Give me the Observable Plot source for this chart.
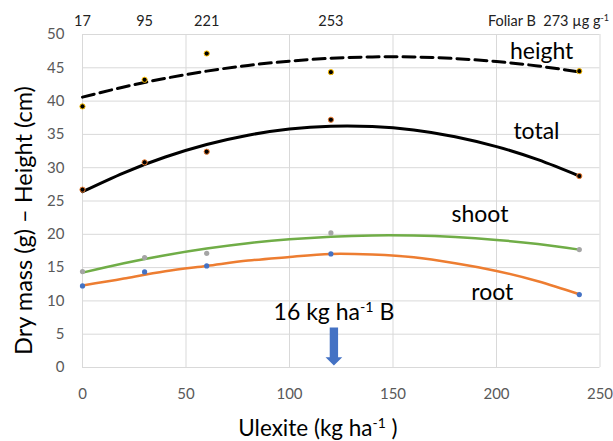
<!DOCTYPE html>
<html>
<head>
<meta charset="utf-8">
<script src="https://cdn.jsdelivr.net/npm/d3@7"></script>
<script src="https://cdn.jsdelivr.net/npm/@observablehq/plot@0.6"></script>
<style>
  html, body { margin: 0; padding: 0; background: #fff; }
</style>
</head>
<body>
<div id="chart"></div>
<script>
// Ulexite doses (kg ha-1)
const doses = [0, 30, 60, 120, 240];

// Observed means
const heightObs = [39.2, 43.2, 47.15, 44.35, 44.5];
const totalObs  = [26.7, 30.8, 32.4, 37.2, 28.75];
const shootObs  = [14.4, 16.5, 17.15, 20.2, 17.7];
const rootObs   = [12.25, 14.35, 15.25, 17.05, 10.95];

// Trend curves
const fitX      = [0, 20, 40, 60, 80, 100, 120, 140, 160, 180, 200, 220, 240];
const heightFit = [40.6, 42.12, 43.42, 44.5, 45.36, 46.0, 46.43, 46.63, 46.62, 46.39, 45.94, 45.27, 44.39];
const totalFit  = [26.4, 29.24, 31.6, 33.48, 34.88, 35.81, 36.24, 36.19, 35.67, 34.66, 33.17, 31.2, 28.75];
const shootFit  = [14.25, 15.66, 16.86, 17.86, 18.66, 19.25, 19.64, 19.83, 19.81, 19.59, 19.16, 18.53, 17.7];
const rootFit   = [12.3, 13.35, 14.45, 15.25, 16.05, 16.6, 17.05, 16.95, 16.55, 15.65, 14.5, 12.95, 11.0];

// Leaf B concentrations above each dose (µg g-1)
const leafB = ["17", "95", "221", "253"];
const foliarLabel = "Foliar B  273 µg g⁻¹";

// Curve labels
const curveNames = ["height", "total", "shoot", "root"];
const curveLabelX = [221.8, 219.3, 192, 198];
const curveLabelY = [47.45, 35.45, 22.9, 11.17];

// Recommended dose annotation
const doseNote = "16 kg ha⁻¹ B";
const doseNoteX = 92.3, doseNoteY = 8.17;
const arrowDose = 120, arrowMid = 3.15;

const xTicks = [0, 50, 100, 150, 200, 250];
const yTicks = [0, 5, 10, 15, 20, 25, 30, 35, 40, 45, 50];
const xTitle = "Ulexite (kg ha⁻¹ )";
const yTitle = "Dry mass (g) – Height (cm)";

const blockArrow = {
  draw(ctx, size) {
    const s = Math.sqrt(size / Math.PI);
    ctx.moveTo(-0.22 * s, -s);
    ctx.lineTo(0.22 * s, -s);
    ctx.lineTo(0.22 * s, 0.56 * s);
    ctx.lineTo(0.44 * s, 0.56 * s);
    ctx.lineTo(0, s);
    ctx.lineTo(-0.44 * s, 0.56 * s);
    ctx.lineTo(-0.22 * s, 0.56 * s);
    ctx.closePath();
  }
};

const obsSeries = (arr) => doses.map((d, i) => ({x: d, y: arr[i]}));
const fitSeries = (arr) => fitX.map((d, i) => ({x: d, y: arr[i]}));

const chart = Plot.plot({
  width: 613,
  height: 441,
  marginLeft: 82,
  marginRight: 13.5,
  marginTop: 34,
  marginBottom: 74,
  x: {domain: [0, 250]},
  y: {domain: [0, 50]},
  style: {fontFamily: "Lato, 'Open Sans', sans-serif", fontSize: "15px", background: "#fff", color: "#000", overflow: "visible"},
  marks: [
    Plot.gridX({ticks: xTicks, stroke: "#d9d9d9", strokeOpacity: 1, strokeWidth: 1}),
    Plot.gridY({ticks: yTicks, stroke: "#d9d9d9", strokeOpacity: 1, strokeWidth: 1}),
    Plot.axisX({ticks: xTicks, tickSize: 0, tickPadding: 21, fontSize: 15, color: "#595959", label: null}),
    Plot.axisY({ticks: yTicks, tickSize: 0, tickPadding: 18, fontSize: 15, color: "#595959", label: null}),

    // curves
    Plot.line(fitSeries(heightFit), {x: "x", y: "y", stroke: "#000", strokeWidth: 3, strokeDasharray: "12,6", curve: "natural"}),
    Plot.line(fitSeries(totalFit), {x: "x", y: "y", stroke: "#000", strokeWidth: 3, curve: "natural"}),
    Plot.line(fitSeries(shootFit), {x: "x", y: "y", stroke: "#70AD47", strokeWidth: 2.5, curve: "natural"}),
    Plot.line(fitSeries(rootFit), {x: "x", y: "y", stroke: "#ED7D31", strokeWidth: 2.5, curve: "natural"}),

    // observed points
    Plot.dot(obsSeries(heightObs), {x: "x", y: "y", r: 2.6, fill: "#000", stroke: "#FFC000", strokeWidth: 1}),
    Plot.dot(obsSeries(totalObs), {x: "x", y: "y", r: 2.6, fill: "#000", stroke: "#ED7D31", strokeWidth: 1}),
    Plot.dot(obsSeries(shootObs), {x: "x", y: "y", r: 2.6, fill: "#A5A5A5"}),
    Plot.dot(obsSeries(rootObs), {x: "x", y: "y", r: 2.6, fill: "#4472C4"}),

    // curve labels
    Plot.text(curveNames, {x: (d, i) => curveLabelX[i], y: (d, i) => curveLabelY[i], text: d => d, fontSize: 23, fill: "#000"}),

    // leaf B labels on top
    Plot.text(leafB, {x: (d, i) => doses[i], text: d => d, frameAnchor: "top", lineAnchor: "middle", dy: -13, fontSize: 14.5, fill: "#222"}),
    Plot.text([foliarLabel], {x: () => 250, text: d => d, frameAnchor: "top", lineAnchor: "middle", dy: -13, dx: 9, textAnchor: "end", fontSize: 14.5, fill: "#222"}),

    // dose annotation
    Plot.text([doseNote], {x: () => doseNoteX, y: () => doseNoteY, text: d => d, textAnchor: "start", fontSize: 23, fill: "#000"}),
    Plot.dot([arrowDose], {x: d => d, y: () => arrowMid, r: 19, symbol: blockArrow, fill: "#4472C4", stroke: "none", dx: 3}),

    // axis titles
    Plot.text([xTitle], {text: d => d, frameAnchor: "bottom", textAnchor: "middle", lineAnchor: "middle", dy: 61.5, dx: -23.3, fontSize: 22.5, fill: "#000"}),
    Plot.text([yTitle], {text: d => d, frameAnchor: "left", textAnchor: "middle", lineAnchor: "middle", rotate: -90, dx: -57.7, dy: 19.5, fontSize: 23.5, fill: "#000"})
  ]
});

// turn "⁻¹" into real superscript tspans
const SVGNS = "http://www.w3.org/2000/svg";
chart.querySelectorAll("text").forEach(t => {
  const targets = t.querySelector("tspan") ? [...t.querySelectorAll("tspan")] : [t];
  targets.forEach(el => {
    const s = el.textContent;
    if (!s.includes("⁻¹")) return;
    const parts = s.split("⁻¹");
    el.textContent = "";
    parts.forEach((p, i) => {
      if (p) el.appendChild(document.createTextNode(p));
      if (i < parts.length - 1) {
        const sup = document.createElementNS(SVGNS, "tspan");
        sup.setAttribute("baseline-shift", "super");
        sup.setAttribute("font-size", "62%");
        sup.textContent = "-1";
        el.appendChild(sup);
      }
    });
  });
});

document.getElementById("chart").appendChild(chart);
</script>
</body>
</html>
